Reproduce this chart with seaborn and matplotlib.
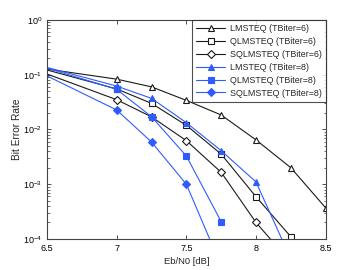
import numpy as np
import pandas as pd
import matplotlib
matplotlib.use('Agg')
import matplotlib.pyplot as plt
import seaborn as sns

# Eb/N0 points and BER values (6.0 lies left of the view)
ebn0 = [6.0, 7.0, 7.25, 7.5, 7.75, 8.0, 8.25, 8.5]
lms6 = [0.194, 0.083, 0.060, 0.034, 0.0184, 0.00645, 0.0020, 3.7e-4]
qlms6 = [0.271, 0.055, 0.030, 0.0119, 0.00355, 5.9e-4, 1.1e-4, 1.5e-5]
sqlms6 = [0.303, 0.035, 0.017, 0.00625, 0.00165, 2.0e-4, 3.7e-5, np.nan]
lms8 = [0.298, 0.062, 0.037, 0.0133, 0.0041, 0.0011, 4.3e-5, np.nan]
qlms8 = [0.323, 0.054, 0.0171, 0.00328, 2.07e-4, np.nan, np.nan, np.nan]
sqlms8 = [0.398, 0.0227, 0.0059, 0.0010, 3.2e-5, np.nan, np.nan, np.nan]

labels = ['LMSTEQ (TBiter=6)', 'QLMSTEQ (TBiter=6)', 'SQLMSTEQ (TBiter=6)',
          'LMSTEQ (TBiter=8)', 'QLMSTEQ (TBiter=8)', 'SQLMSTEQ (TBiter=8)']
series = [lms6, qlms6, sqlms6, lms8, qlms8, sqlms8]

sns.set_style('ticks')
plt.rcParams['font.family'] = ['Liberation Sans', 'DejaVu Sans']
plt.rcParams['mathtext.fontset'] = 'custom'
plt.rcParams['mathtext.rm'] = 'Liberation Sans'

black = '#1a1a1a'
blue = '#2f5cff'
styles = [
    dict(color=black, marker='^', mfc='white', mec=black),
    dict(color=black, marker='s', mfc='white', mec=black),
    dict(color=black, marker='D', mfc='white', mec=black),
    dict(color=blue, marker='^', mfc=blue, mec=blue),
    dict(color=blue, marker='s', mfc=blue, mec=blue),
    dict(color=blue, marker='D', mfc=blue, mec=blue),
]
sizes = [5, 4.5, 4.2, 5, 4.5, 4.2]

fig = plt.figure(figsize=(3.6, 2.7), dpi=100)
ax = fig.add_axes([0.1306, 0.115, 0.774, 0.811])

for lab, vals, st, ms in zip(labels, series, styles, sizes):
    df = pd.DataFrame({'EbN0': ebn0, 'BER': vals}).dropna()
    sns.lineplot(data=df, x='EbN0', y='BER', ax=ax, label=lab,
                 color=st['color'], marker=st['marker'], markersize=ms,
                 markerfacecolor=st['mfc'], markeredgecolor=st['mec'],
                 markeredgewidth=0.8, linewidth=0.8)

ax.set_yscale('log')
ax.set_xlim(6.5, 8.5)
ax.set_ylim(1e-4, 1)
ax.set_xticks([6.5, 7, 7.5, 8, 8.5])
ax.set_xticklabels(['6.5', '7', '7.5', '8', '8.5'])
ax.set_yticks([1e-4, 1e-3, 1e-2, 1e-1, 1])
ax.set_yticklabels([r'$10^{-4}$', r'$10^{-3}$', r'$10^{-2}$', r'$10^{-1}$', r'$10^{0}$'])
ax.tick_params(which='both', direction='in', top=True, right=True,
               labelsize=6.5, colors='#333333', labelcolor='black')
ax.tick_params(which='major', length=3, width=0.6)
ax.tick_params(which='minor', length=1.8, width=0.5)
for sp in ax.spines.values():
    sp.set_linewidth(0.8)
    sp.set_color('#444444')

ax.set_xlabel('Eb/N0 [dB]', fontsize=6.8, labelpad=3)
ax.set_ylabel('Bit Error Rate', fontsize=7.3, labelpad=1)

leg = ax.legend(loc='upper right', fontsize=6.4, frameon=True, fancybox=False,
                edgecolor='#222222', borderpad=0.45, labelspacing=0.44,
                handlelength=3.3, handletextpad=0.5, borderaxespad=0.0)
leg.get_frame().set_linewidth(0.8)

fig.savefig('out.png', dpi=100, facecolor='white')
